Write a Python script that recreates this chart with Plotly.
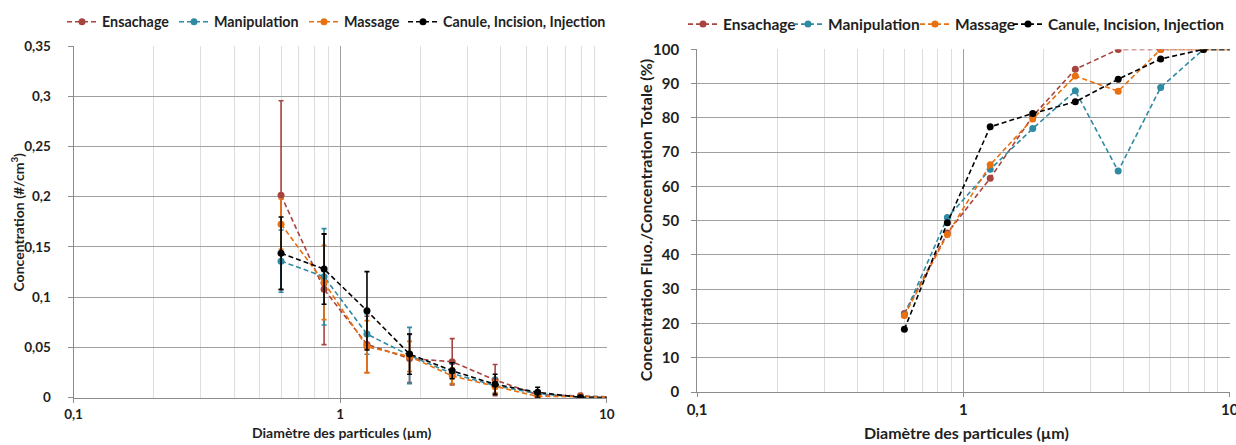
import plotly.graph_objects as go

# Particle diameter classes (µm); the last class lies beyond the 10 µm axis limit
diametre = [0.6, 0.87, 1.26, 1.82, 2.63, 3.81, 5.5, 7.96, 11.5]

series_names = ["Ensachage", "Manipulation", "Massage", "Canule, Incision, Injection"]

# Number concentration (#/cm3) per activity
conc_ensachage = [0.2015, 0.1078, 0.053, 0.039, 0.0358, 0.0176, 0.003, 0.002, 0.0005]
conc_manipulation = [0.1359, 0.1203, 0.0633, 0.042, 0.024, 0.012, 0.004, 0.0005, 0.0002]
conc_massage = [0.1727, 0.1147, 0.0507, 0.041, 0.0216, 0.011, 0.0012, 0.001, 0.0002]
conc_canule = [0.1438, 0.128, 0.0865, 0.0434, 0.0268, 0.0133, 0.0054, 0.0003, 0.0002]

# Standard deviations of the concentrations
err_ensachage = [0.094, 0.055, 0.028, 0.024, 0.023, 0.0155, 0.003, 0.002, 0.0]
err_manipulation = [0.031, 0.048, 0.02, 0.028, 0.01, 0.008, 0.003, 0.001, 0.0]
err_massage = [0.025, 0.037, 0.026, 0.015, 0.008, 0.006, 0.003, 0.001, 0.0]
err_canule = [0.036, 0.035, 0.039, 0.02, 0.008, 0.01, 0.005, 0.001, 0.0]

# Fluorescent / total concentration ratio (%)
ratio_ensachage = [22.9, 46.4, 62.4, 80.5, 94.2, 100, 100, 100, 100]
ratio_manipulation = [22.5, 50.9, 65.0, 76.9, 87.9, 64.5, 88.9, 100, 100]
ratio_massage = [22.3, 46.0, 66.3, 79.7, 92.2, 87.8, 100, 100, 100]
ratio_canule = [18.3, 49.4, 77.4, 81.3, 84.7, 91.3, 97.2, 100, 100]

colors = ["#A8443F", "#2F8AA3", "#E8700F", "#000000"]

conc = [conc_ensachage, conc_manipulation, conc_massage, conc_canule]
errs = [err_ensachage, err_manipulation, err_massage, err_canule]
ratios = [ratio_ensachage, ratio_manipulation, ratio_massage, ratio_canule]

FONT = "Lato"
TXT = "#1f1f1f"
W, H = 1236, 445

# Each legend entry gets its own legend box so the entries can be spaced freely
left_entry_x = [62, 174, 304, 403]
right_entry_x = [683, 788, 915, 1008]

fig = go.Figure()

for i, (name, col, y, e) in enumerate(zip(series_names, colors, conc, errs)):
    fig.add_trace(go.Scatter(
        x=diametre, y=y, name=name, mode="lines+markers",
        line=dict(color=col, width=1.6, dash="5px,3px"),
        marker=dict(color=col, size=7),
        error_y=dict(type="data", array=e, color=col, thickness=1.6, width=2.5),
        xaxis="x", yaxis="y", legend="legend" if i == 0 else f"legend{i + 1}",
    ))

for i, (name, col, y) in enumerate(zip(series_names, colors, ratios)):
    fig.add_trace(go.Scatter(
        x=diametre, y=y, name=name, mode="lines+markers",
        line=dict(color=col, width=1.6, dash="5px,3px"),
        marker=dict(color=col, size=7),
        xaxis="x2", yaxis="y2", legend=f"legend{i + 5}",
    ))

minor_vals = [m * 10 ** k for k in (-1, 0) for m in range(2, 10)]

def xaxis_style(domain, anchor, fsize):
    return dict(
        type="log", range=[-1, 1], domain=domain, anchor=anchor,
        dtick=1, showgrid=True, gridcolor="#a0a0a0", gridwidth=1,
        minor=dict(tickmode="array", tickvals=minor_vals, showgrid=True,
                   gridcolor="#dedede", gridwidth=1, ticks=""),
        showline=True, linecolor="#8c8c8c", linewidth=1,
        ticks="outside", ticklen=4, tickcolor="#8c8c8c",
        ticklabeloverflow="allow",
        tickfont=dict(family=FONT, size=fsize, color=TXT, weight="bold"),
        zeroline=False, automargin=False,
    )

def yaxis_style(domain, anchor, rng, dtick, standoff, fsize):
    return dict(
        range=rng, domain=domain, anchor=anchor, dtick=dtick,
        showgrid=True, gridcolor="#a0a0a0", gridwidth=1.2,
        showline=True, linecolor="#8c8c8c", linewidth=1,
        ticks="outside", ticklen=5, tickcolor="#8c8c8c",
        ticklabelstandoff=standoff,
        tickfont=dict(family=FONT, size=fsize, color=TXT, weight="bold"),
        zeroline=False, automargin=False,
    )

def legend_box(px, py, fsize):
    return dict(
        orientation="h", yanchor="middle", xanchor="left",
        x=px / W, y=1 - py / H,
        font=dict(family=FONT, size=fsize, color=TXT, weight="bold"),
        bgcolor="rgba(0,0,0,0)", itemwidth=30,
    )

legends = {}
for i, px in enumerate(left_entry_x):
    legends["legend" if i == 0 else f"legend{i + 1}"] = legend_box(px, 22, 14.3)
for i, px in enumerate(right_entry_x):
    legends[f"legend{i + 5}"] = legend_box(px, 24.5, 15.5)

title_left = dict(family=FONT, size=14, color=TXT, weight="bold")
title_right = dict(family=FONT, size=16, color=TXT, weight="bold")

fig.update_layout(
    width=W, height=H,
    margin=dict(l=0, r=0, t=0, b=0),
    paper_bgcolor="white", plot_bgcolor="white",
    separators=", ",
    showlegend=True,
    xaxis=xaxis_style([0.0595, 0.491], "y", 13.5),
    yaxis=yaxis_style([0.1063, 0.8966], "x", [0, 0.35], 0.05, 14, 13.5),
    xaxis2=xaxis_style([0.564, 0.995], "y2", 15),
    yaxis2=yaxis_style([0.1191, 0.889], "x2", [0, 100], 10, 9, 15),
    annotations=[
        dict(text="Concentration (#/cm<sup>3</sup>)", x=18 / W, y=0.5, xref="paper", yref="paper",
             textangle=-90, showarrow=False, xanchor="center", yanchor="middle", font=title_left),
        dict(text="Concentration Fluo./Concentration Totale (%)", x=645 / W, y=0.505,
             xref="paper", yref="paper", textangle=-90, showarrow=False,
             xanchor="center", yanchor="middle", font=title_right),
        dict(text="Diamètre des particules (µm)", x=341 / W, y=1 - 432 / H,
             xref="paper", yref="paper", showarrow=False, xanchor="center", yanchor="middle",
             font=title_left),
        dict(text="Diamètre des particules (µm)", x=967 / W, y=1 - 432 / H,
             xref="paper", yref="paper", showarrow=False, xanchor="center", yanchor="middle",
             font=title_right),
    ],
    **legends,
)

fig.write_html("out.html")
